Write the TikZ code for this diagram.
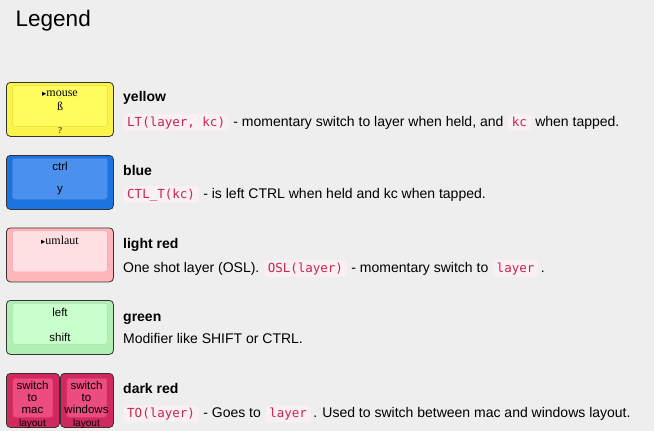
\documentclass[tikz,border=0pt]{standalone}
\usepackage{fontspec}
\setmainfont{Liberation Sans}
\setmonofont{DejaVu Sans Mono}
\newfontfamily\keySerif{Liberation Serif}
\newfontfamily\symFont{DejaVu Sans}
\usetikzlibrary{positioning}

\begin{document}
\begin{tikzpicture}[x=1pt,y=-1pt,
  keyOut/.style={draw=black!80, line width=0.8pt, rounded corners=4pt, minimum width=107pt, minimum height=54pt, anchor=north west, inner sep=0pt},
  keyIn/.style={draw=#1, line width=0.5pt, rounded corners=2.5pt, minimum width=95pt, minimum height=41pt, anchor=north, inner sep=0pt},
  serifTxt/.style={font=\keySerif\fontsize{12}{13}\selectfont, inner sep=0pt},
  sansTxt/.style={font=\fontsize{11.5}{12}\selectfont, inner sep=0pt, align=center},
  head/.style={font=\bfseries\fontsize{14}{16}\selectfont, inner sep=0pt, text height=10pt, text depth=3pt, anchor=west},
  txt/.style={font=\fontsize{14}{16}\selectfont, inner sep=0pt, text height=10pt, text depth=3pt},
  code/.style={font=\ttfamily\fontsize{12.5}{14}\selectfont, text=codeRed, fill=codeBg, rounded corners=3pt, inner xsep=4pt, inner ysep=2pt, text height=10pt, text depth=3pt}
]

% Colori
\definecolor{pageBg}{HTML}{EEEEEE}
\definecolor{codeRed}{HTML}{C7254E}
\definecolor{codeBg}{HTML}{F8F0F2}
\definecolor{yelOut}{HTML}{FBF24A}
\definecolor{yelIn}{HTML}{FFFD5E}
\definecolor{yelLine}{HTML}{E2DB40}
\definecolor{bluOut}{HTML}{1B74E0}
\definecolor{bluIn}{HTML}{4B90EE}
\definecolor{bluLine}{HTML}{3A80DD}
\definecolor{lrdOut}{HTML}{FFB6BA}
\definecolor{lrdIn}{HTML}{FFE0E2}
\definecolor{lrdLine}{HTML}{F0A8AC}
\definecolor{grnOut}{HTML}{B0F0B4}
\definecolor{grnIn}{HTML}{C8FFCC}
\definecolor{grnLine}{HTML}{A5E2A9}
\definecolor{drdOut}{HTML}{D1285E}
\definecolor{drdIn}{HTML}{EC4C7E}
\definecolor{drdLine}{HTML}{D63A6A}

% Sfondo
\useasboundingbox[fill=pageBg] (0,0) rectangle (654,431);

% Titolo
\node[font=\fontsize{22.5}{26}\selectfont, inner sep=0pt, anchor=base west] (title) at (15.5,26.7) {Legend};

% yellow
\node[keyOut, fill=yelOut] (yKey) at (6,82) {};
\node[keyIn=yelLine, fill=yelIn] (yIn) at ([yshift=-3pt]yKey.north) {};
\node[serifTxt] (yTop) at (60,94) {{\symFont\fontsize{8.5}{9}\selectfont ▸}mouse};
\node[serifTxt] (yMid) at (60,106) {ß};
\node[serifTxt, font=\keySerif\fontsize{9}{10}\selectfont] (yBot) at (60,131) {?};
\node[head] (yHead) at (123,98) {yellow};
\node[code, anchor=west] (yCode1) at (123,122.7) {LT(layer, kc)};
\node[txt, right=4pt of yCode1] (yTxt1) {- momentary switch to layer when held, and};
\node[code, right=4pt of yTxt1] (yCode2) {kc};
\node[txt, right=4pt of yCode2] (yTxt2) {when tapped.};

% blue
\node[keyOut, fill=bluOut] (bKey) at (6,155) {};
\node[keyIn=bluLine, fill=bluIn] (bIn) at ([yshift=-3pt]bKey.north) {};
\node[sansTxt] (bTop) at (60,166.7) {ctrl};
\node[sansTxt] (bBot) at (60,191) {y};
\node[head] (bHead) at (123,171.5) {blue};
\node[code, anchor=west] (bCode1) at (123,194.7) {CTL\_T(kc)};
\node[txt, right=4pt of bCode1] (bTxt1) {- is left CTRL when held and kc when tapped.};

% light red
\node[keyOut, fill=lrdOut] (lKey) at (6,227.5) {};
\node[keyIn=lrdLine, fill=lrdIn] (lIn) at ([yshift=-3pt]lKey.north) {};
\node[serifTxt] (lTop) at (60,240) {{\symFont\fontsize{8.5}{9}\selectfont ▸}umlaut};
\node[head] (lHead) at (123,244.5) {light red};
\node[txt, anchor=west] (lTxt1) at (123,268.5) {One shot layer (OSL).};
\node[code, right=4pt of lTxt1] (lCode1) {OSL(layer)};
\node[txt, right=4pt of lCode1] (lTxt2) {- momentary switch to};
\node[code, right=4pt of lTxt2] (lCode2) {layer};
\node[txt, right=2pt of lCode2] (lTxt3) {.};

% green
\node[keyOut, fill=grnOut] (gKey) at (6,300) {};
\node[keyIn=grnLine, fill=grnIn] (gIn) at ([yshift=-3pt]gKey.north) {};
\node[sansTxt] (gTop) at (60,312) {left};
\node[sansTxt] (gBot) at (60,337.5) {shift};
\node[head] (gHead) at (123,317.5) {green};
\node[txt, anchor=west] (gTxt1) at (123,339.8) {Modifier like SHIFT or CTRL.};

% dark red
\node[keyOut, fill=drdOut, minimum width=53pt, minimum height=54pt] (mKey) at (6,373) {};
\node[keyOut, fill=drdOut, minimum width=53pt, minimum height=54pt] (wKey) at (60,373) {};
\node[keyIn=drdLine, fill=drdIn, minimum width=40pt, minimum height=39pt] (mIn) at ([yshift=-5pt]mKey.north) {};
\node[keyIn=drdLine, fill=drdIn, minimum width=40pt, minimum height=39pt] (wIn) at ([yshift=-5pt]wKey.north) {};
\node[sansTxt, anchor=north] (mTop) at (32.5,380.5) {switch\\to\\mac};
\node[sansTxt, anchor=north] (wTop) at (86.5,380.5) {switch\\to\\windows};
\node[sansTxt, font=\fontsize{10}{11}\selectfont] (mBot) at (32.5,424) {layout};
\node[sansTxt, font=\fontsize{10}{11}\selectfont] (wBot) at (86.5,424) {layout};
\node[head] (dHead) at (123,389.8) {dark red};
\node[code, anchor=west] (dCode1) at (123,413.8) {TO(layer)};
\node[txt, right=4pt of dCode1] (dTxt1) {- Goes to};
\node[code, right=4pt of dTxt1] (dCode2) {layer};
\node[txt, right=2pt of dCode2] (dTxt2) {. Used to switch between mac and windows layout.};

\end{tikzpicture}
\end{document}
